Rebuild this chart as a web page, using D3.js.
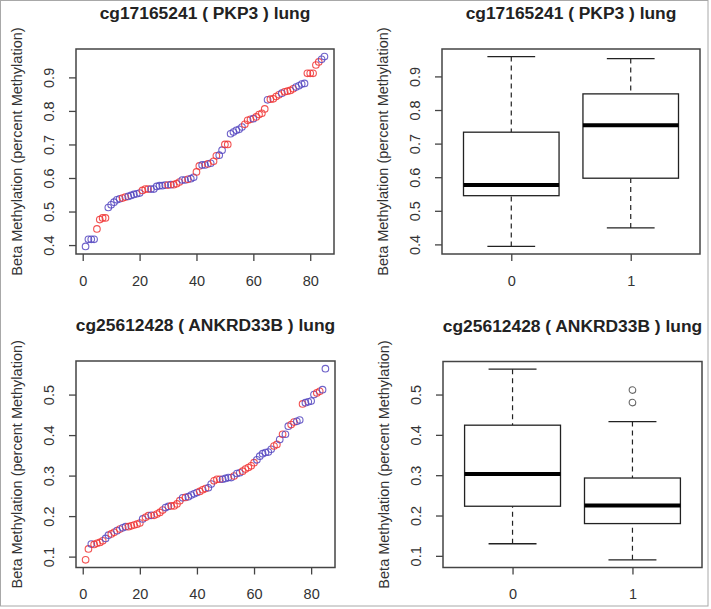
<!DOCTYPE html>
<html>
<head>
<meta charset="utf-8">
<script src="https://cdn.jsdelivr.net/npm/d3@7"></script>
<style>
	body { margin: 0; background: #fff; }
	svg { display: block; font-family: "Liberation Sans", Arial, sans-serif; }
	.frame { fill: none; stroke: #444; stroke-width: 1.5; }
	.axis line { stroke: #444; stroke-width: 1.3; }
	.axis text { fill: #333; font-size: 14.5px; }
	.title { font-size: 17.4px; font-weight: bold; fill: #222; text-anchor: middle; }
	.ylab { font-size: 14.5px; fill: #333; text-anchor: middle; }
</style>
</head>
<body>
<svg id="fig" width="711" height="609"></svg>
<script>

// ---- data ----

// PKP3: sorted beta values (index 1..85) and the group (0 = blue, 1 = red)
const pkp3_values = [
	0.396, 0.417, 0.417, 0.417, 0.448, 0.476, 0.481, 0.481, 0.512, 0.520,
	0.528, 0.535, 0.538, 0.540, 0.543, 0.545, 0.548, 0.551, 0.553, 0.555,
	0.563, 0.567, 0.567, 0.567, 0.567, 0.575, 0.577, 0.577, 0.579, 0.579,
	0.580, 0.580, 0.583, 0.588, 0.594, 0.594, 0.596, 0.598, 0.602, 0.618,
	0.636, 0.639, 0.639, 0.642, 0.644, 0.650, 0.666, 0.668, 0.683, 0.700,
	0.700, 0.732, 0.737, 0.742, 0.745, 0.752, 0.760, 0.772, 0.775, 0.777,
	0.782, 0.789, 0.793, 0.806, 0.833, 0.835, 0.836, 0.843, 0.848, 0.853,
	0.857, 0.859, 0.861, 0.866, 0.871, 0.875, 0.880, 0.882, 0.912, 0.912,
	0.912, 0.937, 0.946, 0.954, 0.962
];
const pkp3_groups = [
	0, 0, 0, 0, 1, 1, 1, 1, 0, 0,
	0, 0, 0, 1, 1, 0, 0, 0, 0, 0,
	1, 1, 1, 0, 0, 0, 0, 0, 0, 1,
	0, 1, 1, 1, 0, 0, 1, 0, 0, 1,
	1, 0, 0, 1, 0, 1, 1, 0, 0, 1,
	1, 0, 0, 0, 0, 0, 1, 1, 1, 0,
	1, 1, 1, 1, 0, 1, 1, 1, 1, 0,
	1, 1, 1, 1, 0, 0, 0, 0, 1, 1,
	1, 1, 1, 0, 0
];

// ANKRD33B
const ankrd_values = [
	0.092, 0.119, 0.131, 0.130, 0.133, 0.135, 0.139, 0.145, 0.153, 0.156,
	0.160, 0.164, 0.168, 0.171, 0.174, 0.174, 0.176, 0.178, 0.180, 0.183,
	0.193, 0.197, 0.201, 0.202, 0.202, 0.205, 0.209, 0.215, 0.221, 0.224,
	0.225, 0.225, 0.230, 0.238, 0.245, 0.246, 0.248, 0.252, 0.255, 0.258,
	0.261, 0.265, 0.268, 0.270, 0.279, 0.287, 0.291, 0.291, 0.291, 0.293,
	0.295, 0.295, 0.299, 0.305, 0.307, 0.311, 0.316, 0.320, 0.324, 0.332,
	0.339, 0.348, 0.354, 0.357, 0.358, 0.365, 0.373, 0.377, 0.389, 0.402,
	0.402, 0.422, 0.426, 0.432, 0.434, 0.437, 0.477, 0.480, 0.482, 0.484,
	0.500, 0.504, 0.508, 0.512, 0.564
];
const ankrd_groups = [
	1, 1, 0, 1, 1, 1, 1, 0, 0, 1,
	1, 0, 1, 0, 0, 1, 1, 1, 1, 1,
	0, 1, 1, 0, 1, 1, 1, 1, 0, 0,
	1, 1, 1, 1, 0, 1, 0, 0, 0, 0,
	1, 1, 1, 0, 0, 1, 1, 1, 0, 0,
	0, 0, 1, 0, 0, 1, 1, 1, 1, 1,
	0, 0, 0, 0, 0, 0, 1, 1, 0, 1,
	0, 0, 1, 1, 0, 0, 1, 0, 0, 0,
	0, 1, 1, 0, 0
];

// boxplot summaries per group: [lower whisker, Q1, median, Q3, upper whisker]
const box_categories = ["0", "1"];
const pkp3_box = [
	[0.394, 0.545, 0.577, 0.734, 0.959],
	[0.449, 0.597, 0.755, 0.848, 0.953]
];
const pkp3_outliers = [[], []];
const ankrd_box = [
	[0.130, 0.223, 0.303, 0.424, 0.563],
	[0.090, 0.180, 0.225, 0.293, 0.433]
];
const ankrd_outliers = [[], [0.511, 0.480]];

const pkp3_title = "cg17165241 ( PKP3 ) lung";
const ankrd_title = "cg25612428 ( ANKRD33B ) lung";
const y_label = "Beta Methylation (percent Methylation)";
const pkp3_yticks = [0.4, 0.5, 0.6, 0.7, 0.8, 0.9];
const ankrd_yticks = [0.1, 0.2, 0.3, 0.4, 0.5];
const index_ticks = [0, 20, 40, 60, 80];

const group_colors = ["#5546c0", "#f03434"];

// ---- drawing ----

const svg = d3.select("#fig");

// outer grey border of the picture
svg.append("rect")
	.attr("x", 0.5).attr("y", 0.5)
	.attr("width", 707.5).attr("height", 605.5)
	.attr("fill", "none")
	.attr("stroke", "#a8a8a8");

// R style range extension of 4%
function padded(lo, hi) {
	const d = (hi - lo) * 0.04;
	return [lo - d, hi + d];
}

function makePanel(left, top, width, height, title, yDomain, yTicks) {
	const g = svg.append("g").attr("transform", `translate(${left},${top})`);
	const y = d3.scaleLinear().domain(yDomain).range([height, 0]);

	g.append("text").attr("class", "title")
		.attr("x", width / 2).attr("y", -30)
		.text(title);

	g.append("text").attr("class", "ylab")
		.attr("transform", `translate(-59,${height / 2}) rotate(-90)`)
		.attr("dy", "0.35em")
		.text(y_label);

	const yAxis = g.append("g").attr("class", "axis")
		.call(d3.axisLeft(y).tickValues(yTicks).tickSize(7).tickFormat(d3.format(".1f")));
	yAxis.select(".domain").remove();
	yAxis.selectAll("text")
		.attr("transform", "rotate(-90)")
		.attr("x", 0).attr("y", -22.5).attr("dy", 0)
		.attr("text-anchor", "middle");

	return { g, y };
}

function addXAxis(g, x, height, ticks, format) {
	const xAxis = g.append("g").attr("class", "axis")
		.attr("transform", `translate(0,${height})`)
		.call(d3.axisBottom(x).tickValues(ticks).tickSize(7).tickFormat(format));
	xAxis.select(".domain").remove();
	xAxis.selectAll("text").attr("y", 21.5).attr("dy", "0.71em");
}

function addFrame(g, width, height) {
	g.append("rect").attr("class", "frame")
		.attr("width", width).attr("height", height);
}

function scatterPanel(left, top, width, height, title, values, groups, yTicks) {
	const yDomain = padded(d3.min(values), d3.max(values));
	const { g, y } = makePanel(left, top, width, height, title, yDomain, yTicks);
	const x = d3.scaleLinear().domain(padded(1, values.length)).range([0, width]);

	g.selectAll("circle.pt")
		.data(values)
		.enter()
		.append("circle")
		.attr("class", "pt")
		.attr("cx", (d, i) => x(i + 1))
		.attr("cy", d => y(d))
		.attr("r", 3.3)
		.attr("fill", "none")
		.attr("stroke", (d, i) => group_colors[groups[i]])
		.attr("stroke-opacity", 0.85)
		.attr("stroke-width", 1.1);

	addXAxis(g, x, height, index_ticks, d3.format("d"));
	addFrame(g, width, height);
}

function boxPanel(left, top, width, height, title, stats, outliers, yDomainValues, yTicks) {
	const yDomain = padded(d3.min(yDomainValues), d3.max(yDomainValues));
	const { g, y } = makePanel(left, top, width, height, title, yDomain, yTicks);
	// boxes sit at 1..n, xlim 0.5..n+0.5 then extended
	const x = d3.scaleLinear().domain(padded(0.5, stats.length + 0.5)).range([0, width]);
	const boxHalf = (x(1.4) - x(1.0));
	const capHalf = boxHalf / 2;

	const boxes = g.selectAll("g.box")
		.data(stats)
		.enter()
		.append("g")
		.attr("class", "box")
		.attr("transform", (d, i) => `translate(${x(i + 1)},0)`);

	// whiskers
	boxes.append("line")
		.attr("y1", d => y(d[0])).attr("y2", d => y(d[1]))
		.attr("stroke", "#222").attr("stroke-width", 1.2)
		.attr("stroke-dasharray", "5,4");
	boxes.append("line")
		.attr("y1", d => y(d[4])).attr("y2", d => y(d[3]))
		.attr("stroke", "#222").attr("stroke-width", 1.2)
		.attr("stroke-dasharray", "5,4");
	// caps
	[0, 4].forEach(k => {
		boxes.append("line")
			.attr("x1", -capHalf).attr("x2", capHalf)
			.attr("y1", d => y(d[k])).attr("y2", d => y(d[k]))
			.attr("stroke", "#222").attr("stroke-width", 1.3);
	});
	// box
	boxes.append("rect")
		.attr("x", -boxHalf).attr("width", 2 * boxHalf)
		.attr("y", d => y(d[3]))
		.attr("height", d => y(d[1]) - y(d[3]))
		.attr("fill", "#fff")
		.attr("stroke", "#222").attr("stroke-width", 1.3);
	// median
	boxes.append("line")
		.attr("x1", -boxHalf).attr("x2", boxHalf)
		.attr("y1", d => y(d[2])).attr("y2", d => y(d[2]))
		.attr("stroke", "#000").attr("stroke-width", 4);
	// outliers
	boxes.each(function(d, i) {
		d3.select(this).selectAll("circle")
			.data(outliers[i])
			.enter()
			.append("circle")
			.attr("cy", v => y(v))
			.attr("r", 3.3)
			.attr("fill", "none")
			.attr("stroke", "#666")
			.attr("stroke-width", 1.1);
	});

	addXAxis(g, x, height, d3.range(1, stats.length + 1), i => box_categories[i - 1]);
	addFrame(g, width, height);
}

scatterPanel(76, 49, 258, 205, pkp3_title, pkp3_values, pkp3_groups, pkp3_yticks);
boxPanel(442, 49, 258, 205, pkp3_title, pkp3_box, pkp3_outliers,
	pkp3_box.flat().concat(pkp3_outliers.flat()), pkp3_yticks);

scatterPanel(76, 361, 259, 206.5, ankrd_title, ankrd_values, ankrd_groups, ankrd_yticks);
boxPanel(443, 361.5, 259, 206, ankrd_title, ankrd_box, ankrd_outliers,
	ankrd_box.flat().concat(ankrd_outliers.flat()), ankrd_yticks);

</script>
</body>
</html>
